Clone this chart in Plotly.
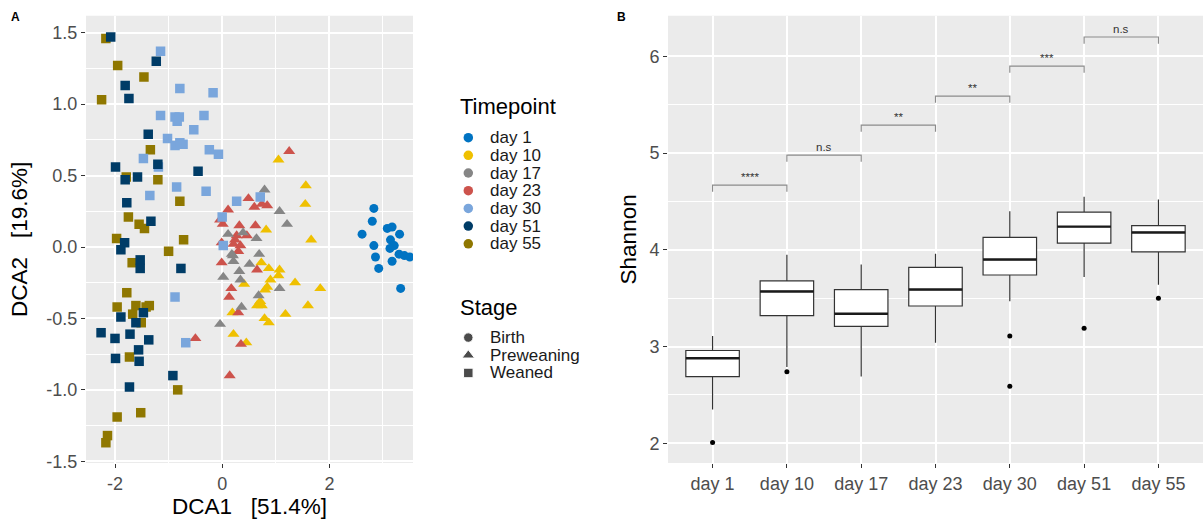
import plotly.graph_objects as go

# ---------------- Panel A: DCA ordination ----------------
timepoints = ["day 1", "day 10", "day 17", "day 23", "day 30", "day 51", "day 55"]
tp_colors = ["#0073C2", "#EFC000", "#868686", "#CD534C", "#7AA6DC", "#003C67", "#8F7700"]
stages = ["Birth", "Preweaning", "Weaned"]
stage_symbols = ["circle", "triangle-up", "square"]

day1_dca1 = [2.83, 2.80, 2.61, 3.08, 3.17, 3.31, 2.83, 3.14, 3.21, 3.13, 3.30, 3.40, 3.50, 2.86, 3.17, 2.92, 3.33]
day1_dca2 = [0.27, 0.18, 0.09, 0.13, 0.14, 0.09, 0.01, 0.05, 0.01, -0.01, -0.05, -0.06, -0.07, -0.07, -0.10, -0.15, -0.29]

day10_dca1 = [1.05, 1.56, 1.55, 0.82, 1.66, 0.73, 0.87, 1.07, 1.05, 0.90, 1.36, 0.41, 0.84, 0.80, 1.83,
              0.65, 0.74, 0.71, 1.60, 0.19, 1.18, 0.79, 0.87, 0.21, 0.45]
day10_dca2 = [0.61, 0.43, 0.30, 0.12, 0.05, -0.11, -0.15, -0.16, -0.20, -0.23, -0.25, -0.26, -0.28, -0.30, -0.29,
              -0.41, -0.41, -0.38, -0.41, -0.46, -0.47, -0.50, -0.53, -0.61, -0.67]

day17_dca1 = [0.79, 1.07, 1.21, 0.39, 0.11, 0.64, 0.18, 0.69, 0.21, 0.51, 0.32, 0.02, 0.20, 0.34, 1.07, 0.68, 0.36, -0.04]
day17_dca2 = [0.40, 0.25, 0.16, 0.10, 0.09, 0.06, -0.05, -0.05, -0.10, -0.12, -0.17, -0.21, -0.06, -0.23, -0.29, -0.34, -0.42, -0.54]

day23_dca1 = [1.25, 0.49, 0.60, 0.84, 0.74, 0.11, 0.01, 0.32, 0.62, -0.01, 0.24, 0.34, 0.46, 0.30, -0.01,
              0.65, 0.17, 0.13, 0.30, -0.50, 0.35, 0.14, -0.04, 0.21, 0.27]
day23_dca2 = [0.67, 0.34, 0.28, 0.29, 0.30, 0.26, 0.16, 0.15, 0.15, 0.03, 0.05, 0.01, 0.08, -0.03, -0.11,
              -0.16, -0.29, -0.35, -0.46, -0.64, -0.68, -0.90, 0.19, 0.02, 0.08]

day30_dca1 = [-1.15, -0.79, -0.17, -1.15, -0.88, -0.80, -0.84, -0.34, -0.53, -1.02, -0.88, -0.79, -0.73,
              -0.24, -0.07, -1.47, -1.19, -0.85, -1.35, -0.30, 0.27, 0.71, 0.00, 0.02, -0.88, -0.68]
day30_dca2 = [1.37, 1.11, 1.08, 0.92, 0.91, 0.91, 0.88, 0.92, 0.82, 0.76, 0.71, 0.73, 0.72,
              0.68, 0.65, 0.62, 0.56, 0.42, 0.36, 0.39, 0.32, 0.35, 0.21, 0.01, -0.35, -0.67]

day51_dca1 = [-2.08, -1.23, -1.81, -1.74, -1.38, -1.99, -1.20, -1.81, -1.58, -0.45, -1.78, -1.33, -1.82, -1.89,
              -1.53, -1.53, -0.77, -1.89, -1.47, -1.61, -2.26, -2.00, -1.72, -1.37, -1.56, -1.55, -1.99, -1.73, -0.92]
day51_dca2 = [1.47, 1.30, 1.13, 1.04, 0.79, 0.56, 0.58, 0.47, 0.49, 0.53, 0.31, 0.18, 0.03, -0.02,
              -0.09, -0.15, -0.15, -0.49, -0.46, -0.53, -0.60, -0.64, -0.61, -0.65, -0.72, -0.80, -0.78, -0.98, -0.90]

day55_dca1 = [-2.17, -1.95, -2.25, -1.46, -1.34, -1.79, -1.20, -0.79, -1.75, -1.55, -1.45, -1.97, -0.72, -1.00,
              -1.68, -1.78, -1.96, -1.61, -1.36, -1.42, -1.67, -1.51, -1.73, -0.83, -1.96, -1.52, -2.14, -2.17]
day55_dca2 = [1.46, 1.27, 1.03, 1.19, 0.68, 0.49, 0.47, 0.32, 0.21, 0.16, 0.13, 0.06, 0.05, -0.03,
              -0.11, -0.32, -0.42, -0.41, -0.41, -0.42, -0.47, -0.53, -0.77, -1.00, -1.19, -1.16, -1.32, -1.37]

# ---------------- Panel B: Shannon diversity ----------------
days = ["day 1", "day 10", "day 17", "day 23", "day 30", "day 51", "day 55"]
shannon_lower = [2.35, 2.79, 2.69, 3.04, 3.47, 3.72, 3.64]
shannon_q1 = [2.69, 3.32, 3.21, 3.42, 3.74, 4.07, 3.98]
shannon_median = [2.88, 3.57, 3.34, 3.59, 3.90, 4.24, 4.18]
shannon_q3 = [2.96, 3.68, 3.59, 3.82, 4.13, 4.39, 4.25]
shannon_upper = [3.11, 3.95, 3.85, 3.96, 4.40, 4.55, 4.52]
outlier_day = ["day 1", "day 10", "day 30", "day 30", "day 51", "day 55"]
outlier_value = [2.01, 2.74, 3.11, 2.59, 3.19, 3.50]

bracket_left = ["day 1", "day 10", "day 17", "day 23", "day 30", "day 51"]
bracket_right = ["day 10", "day 17", "day 23", "day 30", "day 51", "day 55"]
bracket_height = [4.67, 4.98, 5.29, 5.59, 5.90, 6.20]
bracket_label = ["****", "n.s", "**", "**", "***", "n.s"]

FONT = "Liberation Sans, Arial, sans-serif"
TICK_COLOR = "#4D4D4D"
PANEL_BG = "#EBEBEB"
BOX_WIDTH = 0.72
BRACKET_TIP = 0.07

fig = go.Figure()

# scatter: one trace per timepoint, drawn so that weaned squares sit on top
series = {
    "day 1": (day1_dca1, day1_dca2, "Birth"),
    "day 10": (day10_dca1, day10_dca2, "Preweaning"),
    "day 17": (day17_dca1, day17_dca2, "Preweaning"),
    "day 23": (day23_dca1, day23_dca2, "Preweaning"),
    "day 30": (day30_dca1, day30_dca2, "Weaned"),
    "day 51": (day51_dca1, day51_dca2, "Weaned"),
    "day 55": (day55_dca1, day55_dca2, "Weaned"),
}
draw_order = ["day 10", "day 23", "day 17", "day 55", "day 30", "day 51", "day 1"]
symbol_size = {"circle": 9, "triangle-up": 10.5, "square": 9.5}
for tp in draw_order:
    xs, ys, stage = series[tp]
    sym = stage_symbols[stages.index(stage)]
    fig.add_trace(go.Scatter(
        x=xs, y=ys, mode="markers", xaxis="x", yaxis="y", showlegend=False,
        marker=dict(color=tp_colors[timepoints.index(tp)], symbol=sym,
                    size=symbol_size[sym], line=dict(width=0)),
    ))

# box plots from summary statistics
pos = {d: i for i, d in enumerate(days)}
fig.add_trace(go.Box(
    x=list(range(len(days))), q1=shannon_q1, median=shannon_median, q3=shannon_q3,
    lowerfence=shannon_lower, upperfence=shannon_upper,
    xaxis="x2", yaxis="y2", boxpoints=False, width=BOX_WIDTH, whiskerwidth=0,
    fillcolor="white", line=dict(color="#333333", width=1.2), showlegend=False,
    hoverinfo="skip",
))

# thicker median bars
mx, my = [], []
for i, m in enumerate(shannon_median):
    mx += [i - BOX_WIDTH / 2, i + BOX_WIDTH / 2, None]
    my += [m, m, None]
fig.add_trace(go.Scatter(x=mx, y=my, mode="lines", xaxis="x2", yaxis="y2",
                         line=dict(color="#1A1A1A", width=2.4), showlegend=False, hoverinfo="skip"))

# outliers
fig.add_trace(go.Scatter(x=[pos[d] for d in outlier_day], y=outlier_value, mode="markers",
                         xaxis="x2", yaxis="y2", marker=dict(color="black", size=5),
                         showlegend=False, hoverinfo="skip"))

# significance brackets
bx, by = [], []
for l, r, h in zip(bracket_left, bracket_right, bracket_height):
    bx += [pos[l], pos[l], pos[r], pos[r], None]
    by += [h - BRACKET_TIP, h, h, h - BRACKET_TIP, None]
fig.add_trace(go.Scatter(x=bx, y=by, mode="lines", xaxis="x2", yaxis="y2",
                         line=dict(color="#8C8C8C", width=1.2), showlegend=False, hoverinfo="skip"))

annotations = []
for l, r, h, lab in zip(bracket_left, bracket_right, bracket_height, bracket_label):
    annotations.append(dict(x=(pos[l] + pos[r]) / 2, y=h, xref="x2", yref="y2", text=lab,
                            showarrow=False, yanchor="bottom", yshift=0,
                            font=dict(family=FONT, size=11.5, color="#333333")))

# ---------------- legend keys (drawn on their own hidden axes) ----------------
tp_rows = list(range(len(timepoints)))
stage_rows = [r + 11.3 for r in range(len(stages))]
fig.add_trace(go.Scatter(x=[0] * len(timepoints), y=tp_rows, mode="markers", xaxis="x3", yaxis="y3",
                         marker=dict(color=tp_colors, size=9.5, symbol="circle"),
                         showlegend=False, hoverinfo="skip"))
fig.add_trace(go.Scatter(x=[0] * len(stages), y=stage_rows, mode="markers", xaxis="x3", yaxis="y3",
                         marker=dict(color="black", size=[9.5, 11, 9.5], symbol=stage_symbols),
                         showlegend=False, hoverinfo="skip"))
legend_font = dict(family=FONT, size=17, color="#1A1A1A")
for lab, r in zip(timepoints, tp_rows):
    annotations.append(dict(x=20, y=r, xref="x3", yref="y3", text=lab, showarrow=False,
                            xanchor="left", yanchor="middle", font=legend_font))
for lab, r in zip(stages, stage_rows):
    annotations.append(dict(x=20, y=r, xref="x3", yref="y3", text=lab, showarrow=False,
                            xanchor="left", yanchor="middle", font=legend_font))
annotations.append(dict(x=-10, y=-1.75, xref="x3", yref="y3", text="Timepoint", showarrow=False,
                        xanchor="left", yanchor="middle", font=dict(family=FONT, size=22, color="black")))
annotations.append(dict(x=-10, y=9.6, xref="x3", yref="y3", text="Stage", showarrow=False,
                        xanchor="left", yanchor="middle", font=dict(family=FONT, size=22, color="black")))

# panel tags
annotations.append(dict(x=15 / 1203, y=1 - 17 / 530, xref="paper", yref="paper", text="<b>A</b>",
                        showarrow=False, xanchor="center", yanchor="middle",
                        font=dict(family=FONT, size=12, color="black")))
annotations.append(dict(x=621 / 1203, y=1 - 17 / 530, xref="paper", yref="paper", text="<b>B</b>",
                        showarrow=False, xanchor="center", yanchor="middle",
                        font=dict(family=FONT, size=12, color="black")))

# grey panel backgrounds (only for the two data panels)
shapes = []
for xr, yr in (("x", "y"), ("x2", "y2")):
    shapes.append(dict(type="rect", xref=f"{xr} domain", yref=f"{yr} domain", x0=0, x1=1, y0=0, y1=1,
                       fillcolor=PANEL_BG, line=dict(width=0), layer="below"))

y_domain = [1 - 471 / 530, 1 - 16 / 530]
common_axis = dict(showline=False, zeroline=False, ticks="outside", ticklen=4, tickwidth=1.1,
                   tickcolor="#333333", tickfont=dict(family=FONT, size=18, color=TICK_COLOR),
                   showgrid=True, gridcolor="white", gridwidth=1.6)
minor_grid = dict(showgrid=True, gridcolor="white", gridwidth=0.8, ticks="")

fig.update_layout(
    width=1203, height=530, margin=dict(l=0, r=0, t=0, b=0),
    paper_bgcolor="white", plot_bgcolor="white",
    font=dict(family=FONT, color="black"),
    annotations=annotations, shapes=shapes,
    xaxis=dict(common_axis, domain=[86 / 1203, 413 / 1203], range=[-2.541, 3.56], anchor="y",
               tickvals=[-2, 0, 2], ticktext=["-2", "0", "2"],
               minor=dict(minor_grid, tickvals=[-1, 1, 3]),
               title=dict(text="DCA1\u00a0\u00a0\u00a0[51.4%]", font=dict(family=FONT, size=22.5, color="black"),
                          standoff=4)),
    yaxis=dict(common_axis, domain=y_domain, range=[-1.512, 1.619], anchor="x",
               tickvals=[-1.5, -1.0, -0.5, 0.0, 0.5, 1.0, 1.5],
               ticktext=["-1.5", "-1.0", "-0.5", "0.0", "0.5", "1.0", "1.5"],
               minor=dict(minor_grid, tickvals=[-1.25, -0.75, -0.25, 0.25, 0.75, 1.25]),
               title=dict(text="DCA2\u00a0\u00a0\u00a0[19.6%]", font=dict(family=FONT, size=22.5, color="black"),
                          standoff=12)),
    xaxis2=dict(common_axis, domain=[668 / 1203, 1.0], range=[-0.6, 6.6], anchor="y2",
                tickvals=list(range(len(days))), ticktext=days,
                title=dict(text="")),
    yaxis2=dict(common_axis, domain=y_domain, range=[1.797, 6.42], anchor="x2",
                tickvals=[2, 3, 4, 5, 6], ticktext=["2", "3", "4", "5", "6"],
                minor=dict(minor_grid, tickvals=[2.5, 3.5, 4.5, 5.5]),
                title=dict(text="Shannon", font=dict(family=FONT, size=22.5, color="black"), standoff=6)),
    xaxis3=dict(domain=[455 / 1203, 600 / 1203], range=[-13.3, 131.7], anchor="y3",
                visible=False, fixedrange=True),
    yaxis3=dict(domain=[1 - 392 / 530, 1 - 95 / 530], range=[14.0, -2.5], anchor="x3",
                visible=False, fixedrange=True),
)

fig.write_html("out.html")
